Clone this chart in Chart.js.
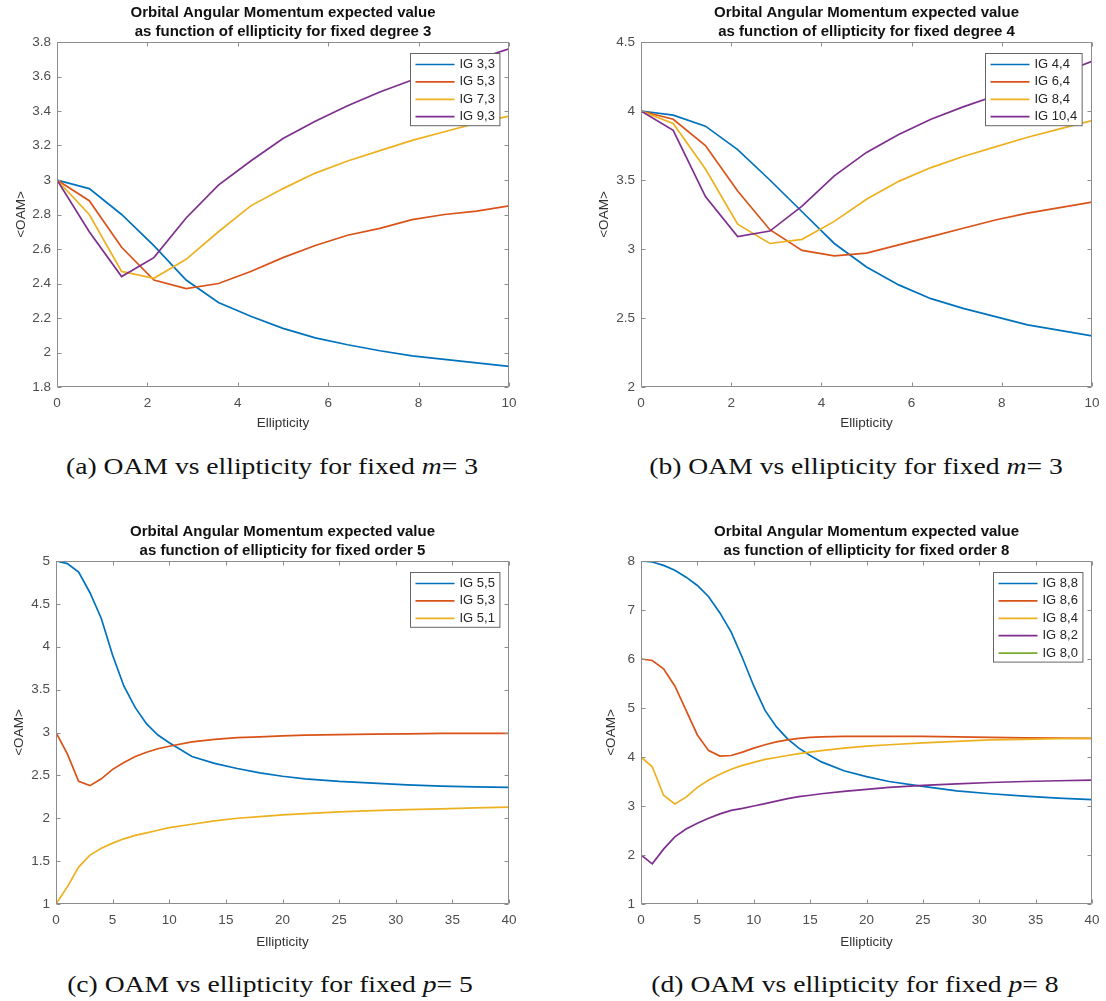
<!DOCTYPE html>
<html>
<head>
<meta charset="utf-8">
<script src="https://cdn.jsdelivr.net/npm/chart.js@4.4.0/dist/chart.umd.min.js"></script>
<style>
  body { margin: 0; background: #fff; }
  #pagina { position: relative; width: 1106px; height: 1001px; overflow: hidden; }
  canvas { position: absolute; }
  .legenda {
    position: absolute;
    font-family: "Liberation Serif", "DejaVu Serif", serif;
    font-size: 24px;
    color: #111;
    white-space: nowrap;
    transform: translate(-50%, -50%) scaleX(1.15);
  }
</style>
</head>
<body>
<div id="pagina">
  <canvas id="grafico-a" width="553" height="440" style="left:0;top:0"></canvas>
  <canvas id="grafico-b" width="553" height="440" style="left:553px;top:0"></canvas>
  <canvas id="grafico-c" width="553" height="440" style="left:0;top:519px"></canvas>
  <canvas id="grafico-d" width="553" height="440" style="left:553px;top:519px"></canvas>
  <div class="legenda" style="left:272px;top:466px">(a) OAM vs ellipticity for fixed <i>m</i>= 3</div>
  <div class="legenda" style="left:856px;top:466px">(b) OAM vs ellipticity for fixed <i>m</i>= 3</div>
  <div class="legenda" style="left:270px;top:984px">(c) OAM vs ellipticity for fixed <i>p</i>= 5</div>
  <div class="legenda" style="left:855px;top:984px">(d) OAM vs ellipticity for fixed <i>p</i>= 8</div>
</div>

<script>
// cores padrao do MATLAB
const azul = "#0072BD";
const laranja = "#D95319";
const amarelo = "#EDB120";
const roxo = "#7E2F8E";
const verde = "#77AC30";

// (a) grau fixo 3
const elipA = [0, 0.714, 1.429, 2.143, 2.857, 3.571, 4.286, 5, 5.714, 6.429, 7.143, 7.857, 8.571, 9.286, 10];
const ig33 = [3.0, 2.95, 2.80, 2.62, 2.42, 2.29, 2.21, 2.14, 2.085, 2.045, 2.01, 1.98, 1.96, 1.94, 1.92];
const ig53 = [3.0, 2.88, 2.61, 2.42, 2.37, 2.40, 2.47, 2.55, 2.62, 2.68, 2.72, 2.77, 2.80, 2.82, 2.85];
const ig73 = [3.0, 2.80, 2.47, 2.43, 2.54, 2.70, 2.85, 2.95, 3.04, 3.11, 3.17, 3.23, 3.28, 3.33, 3.37];
const ig93 = [3.0, 2.70, 2.44, 2.55, 2.78, 2.97, 3.11, 3.24, 3.34, 3.43, 3.51, 3.58, 3.64, 3.70, 3.76];

// (b) grau fixo 4
const elipB = [0, 0.714, 1.429, 2.143, 2.857, 3.571, 4.286, 5, 5.714, 6.429, 7.143, 7.857, 8.571, 9.286, 10];
const ig44 = [4.0, 3.97, 3.89, 3.72, 3.50, 3.27, 3.04, 2.87, 2.74, 2.64, 2.57, 2.51, 2.45, 2.41, 2.37];
const ig64 = [4.0, 3.94, 3.75, 3.42, 3.14, 2.99, 2.95, 2.97, 3.03, 3.09, 3.15, 3.21, 3.26, 3.30, 3.34];
const ig84 = [4.0, 3.91, 3.58, 3.18, 3.04, 3.07, 3.20, 3.36, 3.49, 3.59, 3.67, 3.74, 3.81, 3.87, 3.93];
const ig104 = [4.0, 3.86, 3.38, 3.09, 3.13, 3.31, 3.53, 3.70, 3.83, 3.94, 4.03, 4.11, 4.19, 4.27, 4.36];

// (c) ordem fixa 5
const elipC = [0, 1, 2, 3, 4, 5, 6, 7, 8, 9, 10, 12, 14, 16, 18, 20, 22, 25, 28, 31, 34, 37, 40];
const ig55 = [5.0, 4.97, 4.87, 4.63, 4.33, 3.90, 3.54, 3.29, 3.10, 2.97, 2.88, 2.72, 2.64, 2.58, 2.53, 2.49, 2.46, 2.43, 2.41, 2.39, 2.375, 2.365, 2.36];
const ig53c = [3.0, 2.75, 2.43, 2.38, 2.46, 2.57, 2.65, 2.72, 2.77, 2.81, 2.84, 2.89, 2.92, 2.94, 2.95, 2.96, 2.97, 2.975, 2.98, 2.985, 2.99, 2.99, 2.99];
const ig51 = [1.0, 1.2, 1.43, 1.57, 1.65, 1.71, 1.76, 1.80, 1.83, 1.86, 1.89, 1.93, 1.97, 2.00, 2.02, 2.04, 2.055, 2.075, 2.09, 2.10, 2.11, 2.12, 2.13];

// (d) ordem fixa 8
const elipD = [0, 1, 2, 3, 4, 5, 6, 7, 8, 9, 10, 11, 12, 13, 14, 15, 16, 18, 20, 22, 25, 28, 31, 34, 37, 40];
const ig88 = [8.0, 7.98, 7.91, 7.81, 7.67, 7.5, 7.27, 6.94, 6.55, 6.02, 5.45, 4.95, 4.62, 4.37, 4.18, 4.03, 3.90, 3.72, 3.60, 3.50, 3.40, 3.31, 3.25, 3.20, 3.16, 3.13];
const ig86 = [6.0, 5.97, 5.80, 5.45, 4.95, 4.45, 4.13, 4.02, 4.03, 4.10, 4.18, 4.25, 4.31, 4.35, 4.38, 4.40, 4.41, 4.42, 4.42, 4.42, 4.42, 4.41, 4.40, 4.39, 4.385, 4.38];
const ig84d = [4.0, 3.80, 3.22, 3.04, 3.18, 3.38, 3.53, 3.65, 3.75, 3.83, 3.89, 3.95, 3.99, 4.03, 4.07, 4.10, 4.13, 4.18, 4.22, 4.25, 4.29, 4.32, 4.35, 4.36, 4.375, 4.38];
const ig82 = [2.0, 1.82, 2.12, 2.37, 2.53, 2.65, 2.75, 2.84, 2.91, 2.95, 3.0, 3.05, 3.10, 3.15, 3.19, 3.22, 3.25, 3.30, 3.34, 3.38, 3.42, 3.45, 3.48, 3.50, 3.515, 3.53];
const ig80 = []; // fica abaixo do eixo (OAM < 1), nao aparece

const fonteTexto = "'Liberation Sans', Arial, Helvetica, sans-serif";

// caixa do MATLAB: moldura, ticks para dentro e legenda no canto
const moldura = {
  id: "moldura",
  afterDatasetsDraw(chart) {
    const { ctx, chartArea: a, scales } = chart;
    const l = Math.round(a.left) + 0.5;
    const r = Math.round(a.right) - 0.5;
    const t = Math.round(a.top) + 0.5;
    const b = Math.round(a.bottom) - 0.5;
    ctx.save();
    ctx.strokeStyle = "#8c8c8c";
    ctx.lineWidth = 1;
    ctx.beginPath();
    ctx.rect(l, t, r - l, b - t);
    scales.x.ticks.forEach((tk) => {
      const px = Math.round(scales.x.getPixelForValue(tk.value)) + 0.5;
      ctx.moveTo(px, b);
      ctx.lineTo(px, b - 4);
      ctx.moveTo(px, t);
      ctx.lineTo(px, t + 4);
    });
    scales.y.ticks.forEach((tk) => {
      const py = Math.round(scales.y.getPixelForValue(tk.value)) + 0.5;
      ctx.moveTo(l, py);
      ctx.lineTo(l + 4, py);
      ctx.moveTo(r, py);
      ctx.lineTo(r - 4, py);
    });
    ctx.stroke();

    // legenda
    const sets = chart.data.datasets;
    ctx.font = "13px " + fonteTexto;
    const maxTexto = Math.max(...sets.map((d) => ctx.measureText(d.label).width));
    const w = 5 + 39 + 5 + maxTexto + 5;
    const h = 11 + (sets.length - 1) * 17.4 + 9;
    const x0 = Math.round(a.right - 10 - w) + 0.5;
    const y0 = Math.round(a.top + 11) + 0.5;
    ctx.fillStyle = "#fff";
    ctx.fillRect(x0, y0, w, h);
    ctx.strokeStyle = "#666";
    ctx.strokeRect(x0, y0, w, h);
    sets.forEach((d, i) => {
      const yy = y0 + 11 + i * 17.4;
      ctx.strokeStyle = d.borderColor;
      ctx.lineWidth = 1.7;
      ctx.beginPath();
      ctx.moveTo(x0 + 5, yy);
      ctx.lineTo(x0 + 44, yy);
      ctx.stroke();
      ctx.fillStyle = "#262626";
      ctx.textBaseline = "middle";
      ctx.textAlign = "left";
      ctx.fillText(d.label, x0 + 49, yy);
    });
    ctx.restore();
  },
};

function formatarTick(v) {
  return String(+v.toFixed(2));
}

function criarGrafico(id, p) {
  const ctx = document.getElementById(id).getContext("2d");
  return new Chart(ctx, {
    type: "line",
    data: {
      datasets: p.series.map((s, i) => ({
        label: s.nome,
        data: s.y.map((v, k) => ({ x: p.x[k], y: v })),
        borderColor: s.cor,
        borderWidth: 1.7,
        pointRadius: 0,
        tension: 0,
        fill: false,
        order: -i,
      })),
    },
    options: {
      responsive: false,
      animation: false,
      layout: { padding: { left: 0, right: p.direita, top: 0, bottom: 0 } },
      plugins: {
        legend: { display: false },
        tooltip: { enabled: false },
        title: {
          display: true,
          fullSize: false,
          text: ["Orbital Angular Momentum expected value", p.subtitulo],
          color: "#111",
          font: { family: fonteTexto, size: 15, weight: "bold", lineHeight: "19px" },
          padding: { top: 3, bottom: 1 },
        },
      },
      scales: {
        x: {
          type: "linear",
          min: p.xMin,
          max: p.xMax,
          grid: { display: false, drawTicks: false },
          border: { display: false },
          ticks: {
            stepSize: p.xPasso,
            color: "#4d4d4d",
            font: { family: fonteTexto, size: 13.5 },
            padding: 8,
            maxRotation: 0,
            autoSkip: false,
            callback: formatarTick,
          },
          title: {
            display: true,
            text: "Ellipticity",
            color: "#333",
            font: { family: fonteTexto, size: 13.5, lineHeight: 1.2 },
            padding: { top: 0, bottom: 9 },
          },
          afterFit(s) {
            s.height = p.altX;
            s.paddingLeft = 0;
            s.paddingRight = 0;
          },
        },
        y: {
          type: "linear",
          min: p.yMin,
          max: p.yMax,
          grid: { display: false, drawTicks: false },
          border: { display: false },
          ticks: {
            stepSize: p.yPasso,
            color: "#4d4d4d",
            font: { family: fonteTexto, size: 13.5 },
            padding: 6,
            autoSkip: false,
            callback: formatarTick,
          },
          title: {
            display: true,
            text: "<OAM>",
            color: "#333",
            font: { family: fonteTexto, size: 13.5, lineHeight: 1.2 },
            padding: { top: p.yTitulo - 8.1, bottom: 0 },
          },
          afterFit(s) {
            s.width = p.largY;
            s.paddingTop = 0;
            s.paddingBottom = 0;
          },
        },
      },
    },
    plugins: [moldura],
  });
}

document.addEventListener("DOMContentLoaded", () => {
  criarGrafico("grafico-a", {
    subtitulo: "as function of ellipticity for fixed degree 3",
    x: elipA,
    series: [
      { nome: "IG 3,3", y: ig33, cor: azul },
      { nome: "IG 5,3", y: ig53, cor: laranja },
      { nome: "IG 7,3", y: ig73, cor: amarelo },
      { nome: "IG 9,3", y: ig93, cor: roxo },
    ],
    xMin: 0, xMax: 10, xPasso: 2,
    yMin: 1.8, yMax: 3.8, yPasso: 0.2,
    largY: 57, direita: 44, altX: 53, yTitulo: 21,
  });

  criarGrafico("grafico-b", {
    subtitulo: "as function of ellipticity for fixed degree 4",
    x: elipB,
    series: [
      { nome: "IG 4,4", y: ig44, cor: azul },
      { nome: "IG 6,4", y: ig64, cor: laranja },
      { nome: "IG 8,4", y: ig84, cor: amarelo },
      { nome: "IG 10,4", y: ig104, cor: roxo },
    ],
    xMin: 0, xMax: 10, xPasso: 2,
    yMin: 2, yMax: 4.5, yPasso: 0.5,
    largY: 88, direita: 14, altX: 53, yTitulo: 51,
  });

  criarGrafico("grafico-c", {
    subtitulo: "as function of ellipticity for fixed order 5",
    x: elipC,
    series: [
      { nome: "IG 5,5", y: ig55, cor: azul },
      { nome: "IG 5,3", y: ig53c, cor: laranja },
      { nome: "IG 5,1", y: ig51, cor: amarelo },
    ],
    xMin: 0, xMax: 40, xPasso: 5,
    yMin: 1, yMax: 5, yPasso: 0.5,
    largY: 56, direita: 44, altX: 55, yTitulo: 19,
  });

  criarGrafico("grafico-d", {
    subtitulo: "as function of ellipticity for fixed order 8",
    x: elipD,
    series: [
      { nome: "IG 8,8", y: ig88, cor: azul },
      { nome: "IG 8,6", y: ig86, cor: laranja },
      { nome: "IG 8,4", y: ig84d, cor: amarelo },
      { nome: "IG 8,2", y: ig82, cor: roxo },
      { nome: "IG 8,0", y: ig80, cor: verde },
    ],
    xMin: 0, xMax: 40, xPasso: 5,
    yMin: 1, yMax: 8, yPasso: 1,
    largY: 88, direita: 14, altX: 55, yTitulo: 58,
  });
});
</script>
</body>
</html>
